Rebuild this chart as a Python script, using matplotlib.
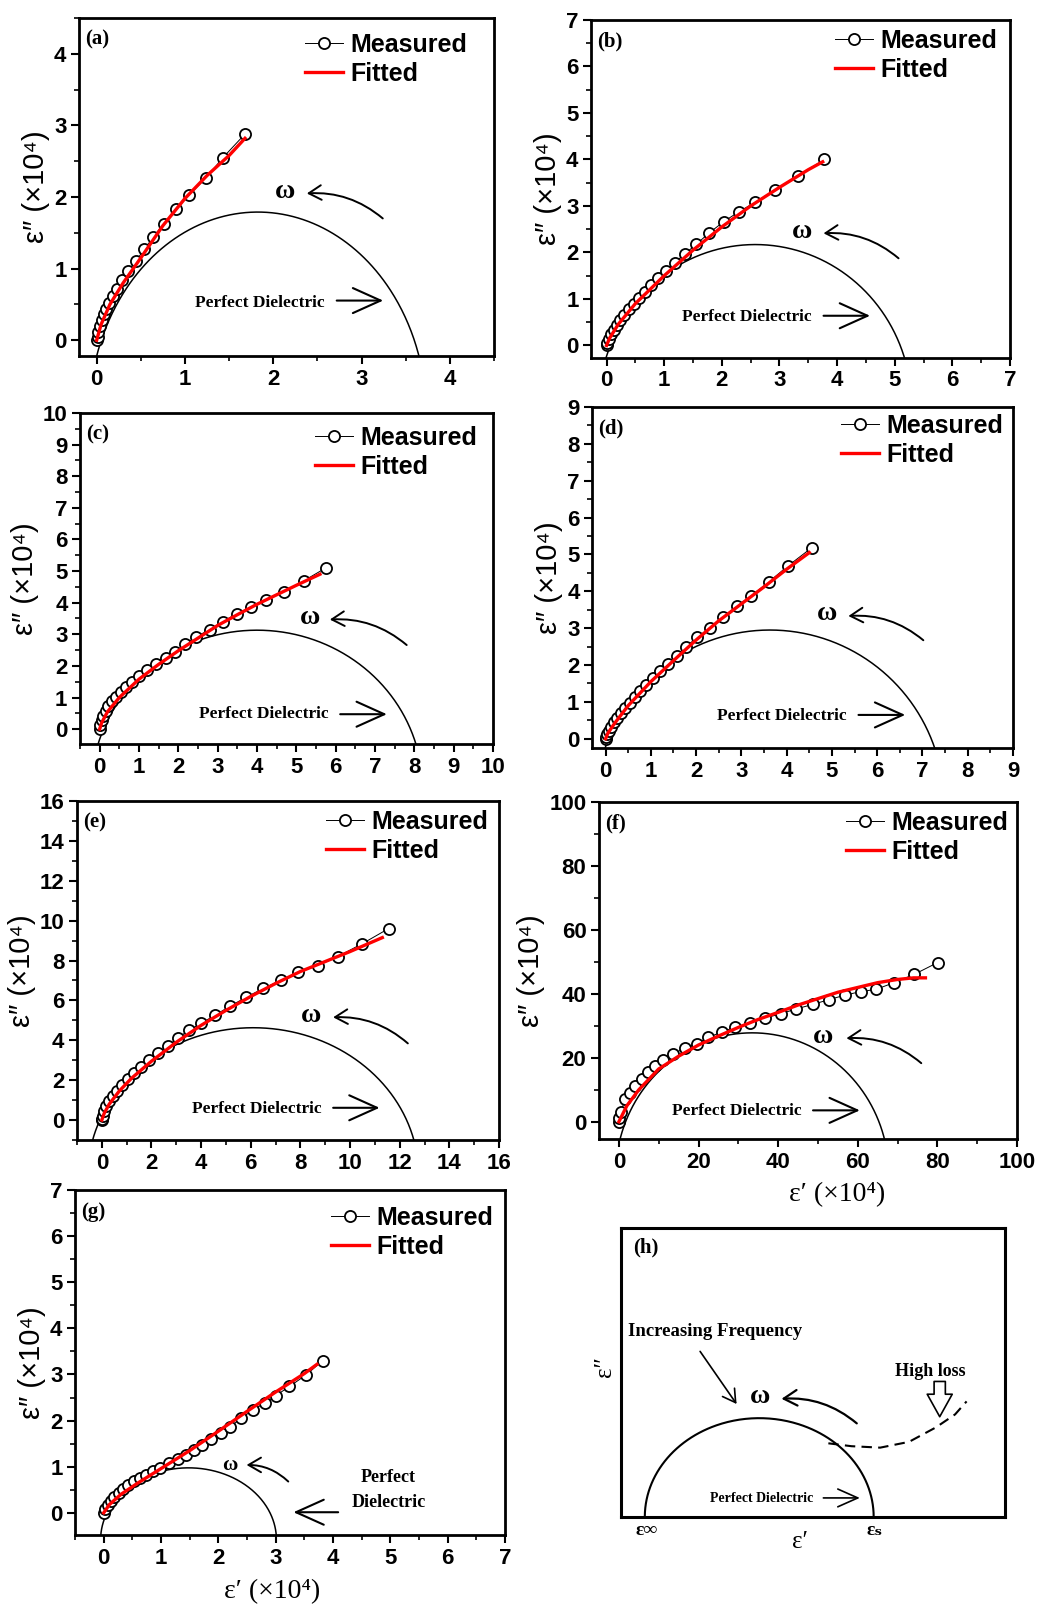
import numpy as np
import matplotlib
matplotlib.use("Agg")
import matplotlib.pyplot as plt
from matplotlib.ticker import MultipleLocator

plt.rcParams['font.family'] = ['Liberation Sans', 'DejaVu Sans']
SERIF = ['Liberation Serif', 'DejaVu Serif']

W, H = 1040, 1610

# ---- measured data (eps' , eps'' in units of 1e4) ----
a_x = [0, 0.01, 0.02, 0.04, 0.06, 0.08, 0.11, 0.14, 0.18, 0.23, 0.29, 0.36, 0.44, 0.54, 0.64, 0.76, 0.90, 1.05, 1.24, 1.43, 1.68]
a_y = [0, 0.05, 0.12, 0.20, 0.28, 0.36, 0.44, 0.52, 0.62, 0.72, 0.84, 0.97, 1.10, 1.27, 1.44, 1.63, 1.83, 2.03, 2.27, 2.55, 2.88]
b_x = [0, 0.01, 0.04, 0.08, 0.13, 0.18, 0.24, 0.31, 0.39, 0.47, 0.56, 0.66, 0.77, 0.89, 1.03, 1.18, 1.36, 1.56, 1.78, 2.03, 2.30, 2.58, 2.93, 3.32, 3.78]
b_y = [0, 0.05, 0.14, 0.24, 0.34, 0.44, 0.55, 0.66, 0.78, 0.90, 1.02, 1.15, 1.29, 1.44, 1.60, 1.78, 1.97, 2.18, 2.42, 2.66, 2.88, 3.08, 3.35, 3.65, 4.00]
c_x = [0, 0.02, 0.05, 0.09, 0.15, 0.22, 0.31, 0.41, 0.53, 0.67, 0.82, 1.00, 1.20, 1.42, 1.68, 1.92, 2.18, 2.45, 2.80, 3.13, 3.48, 3.84, 4.22, 4.68, 5.20, 5.75]
c_y = [0, 0.14, 0.28, 0.43, 0.58, 0.73, 0.88, 1.02, 1.17, 1.33, 1.50, 1.68, 1.86, 2.05, 2.25, 2.45, 2.68, 2.92, 3.15, 3.40, 3.65, 3.85, 4.08, 4.35, 4.70, 5.10]
d_x = [0, 0.01, 0.04, 0.08, 0.13, 0.19, 0.26, 0.34, 0.43, 0.53, 0.64, 0.76, 0.89, 1.04, 1.20, 1.38, 1.57, 1.78, 2.02, 2.30, 2.60, 2.90, 3.22, 3.60, 4.02, 4.55]
d_y = [0, 0.04, 0.12, 0.22, 0.33, 0.45, 0.57, 0.70, 0.84, 0.98, 1.13, 1.29, 1.46, 1.64, 1.83, 2.03, 2.25, 2.50, 2.75, 3.00, 3.30, 3.60, 3.88, 4.25, 4.68, 5.18]
e_x = [0, 0.01, 0.04, 0.10, 0.18, 0.30, 0.45, 0.62, 0.82, 1.05, 1.30, 1.58, 1.90, 2.28, 2.65, 3.05, 3.50, 4.00, 4.55, 5.15, 5.80, 6.50, 7.20, 7.90, 8.70, 9.50, 10.50, 11.55]
e_y = [0, 0.06, 0.22, 0.45, 0.70, 0.95, 1.20, 1.48, 1.75, 2.05, 2.35, 2.65, 3.00, 3.35, 3.70, 4.10, 4.50, 4.85, 5.25, 5.70, 6.15, 6.60, 7.00, 7.40, 7.75, 8.20, 8.85, 9.60]
f_x = [0, 0.1, 0.5, 1.5, 2.7, 4.0, 5.7, 7.3, 9.0, 11.1, 13.6, 16.5, 19.5, 22.4, 25.8, 29.1, 32.9, 36.7, 40.7, 44.6, 48.7, 52.8, 56.8, 60.7, 64.6, 69.1, 74.2, 80.1]
f_y = [0, 1.2, 2.9, 7.0, 9.1, 11.2, 13.5, 15.4, 17.3, 19.3, 21.2, 23.0, 24.3, 26.4, 28.0, 29.6, 30.8, 32.4, 33.8, 35.3, 36.7, 38.2, 39.6, 40.7, 41.4, 43.5, 46.1, 49.8]
g_x = [0, 0.03, 0.07, 0.12, 0.18, 0.26, 0.34, 0.43, 0.53, 0.63, 0.74, 0.86, 0.98, 1.14, 1.30, 1.44, 1.58, 1.72, 1.87, 2.05, 2.21, 2.40, 2.60, 2.81, 3.00, 3.24, 3.53, 3.82]
g_y = [0, 0.08, 0.16, 0.25, 0.34, 0.43, 0.52, 0.60, 0.68, 0.75, 0.82, 0.90, 0.98, 1.08, 1.17, 1.26, 1.37, 1.48, 1.61, 1.73, 1.87, 2.05, 2.23, 2.38, 2.54, 2.74, 2.99, 3.30]

# ---- fitted curves ----
fa_x = [0, 0.05, 0.15, 0.3, 0.5, 0.75, 1.0, 1.25, 1.5, 1.68]
fa_y = [0, 0.22, 0.5, 0.8, 1.15, 1.6, 1.98, 2.3, 2.58, 2.82]
fb_x = [0, 0.05, 0.2, 0.5, 1.0, 1.5, 2.0, 2.5, 3.0, 3.5, 3.75]
fb_y = [0, 0.15, 0.45, 0.9, 1.5, 2.05, 2.55, 3.0, 3.4, 3.78, 3.95]
fc_x = [0, 0.05, 0.2, 0.5, 1.0, 1.5, 2.0, 2.5, 3.0, 3.5, 4.0, 4.5, 5.0, 5.6]
fc_y = [0, 0.2, 0.55, 1.0, 1.58, 2.05, 2.48, 2.88, 3.28, 3.62, 3.95, 4.25, 4.55, 4.9]
fd_x = [0, 0.05, 0.2, 0.5, 1.0, 1.5, 2.0, 2.5, 3.0, 3.5, 4.0, 4.5]
fd_y = [0, 0.15, 0.42, 0.9, 1.55, 2.12, 2.68, 3.2, 3.66, 4.12, 4.6, 5.05]
fe_x = [0, 0.1, 0.3, 0.7, 1.2, 2, 3, 4, 5, 6, 7, 8, 9, 10, 11.3]
fe_y = [0, 0.35, 0.8, 1.45, 2.1, 2.95, 3.9, 4.75, 5.5, 6.2, 6.85, 7.45, 7.95, 8.45, 9.15]
ff_x = [0, 2, 5, 10, 15, 20, 25, 30, 35, 40, 45, 50, 55, 60, 65, 70, 74, 77]
ff_y = [0, 5, 10, 16.5, 20.5, 24, 26.8, 29.5, 32, 34.2, 36.5, 38.5, 40.5, 42, 43.5, 44.5, 45, 45]
fg_x = [0, 0.1, 0.3, 0.6, 1.0, 1.5, 2.0, 2.5, 3.0, 3.5, 3.72]
fg_y = [0, 0.18, 0.4, 0.65, 0.96, 1.35, 1.77, 2.2, 2.62, 3.02, 3.22]

# perfect dielectric arc: centre x, right foot x (at the bottom spine), peak height
arcs = {'a': (1.825, 3.65, 1.79), 'b': (2.58, 5.17, 2.17), 'c': (4.0, 8.04, 3.13),
        'd': (3.63, 7.27, 2.95), 'e': (6.1, 12.57, 4.63), 'f': (33.5, 66.7, 27.8),
        'g': (1.48, 3.01, 0.976)}

panels = [
    # tag, box px (l, t, r, b), mx, my, fx, fy, xlim, ylim, major, minor
    ('a', (79, 18, 494, 356), a_x, a_y, fa_x, fa_y, (-0.2, 4.5), (-0.22, 4.5), 1, 0.5),
    ('b', (591, 20, 1010, 358), b_x, b_y, fb_x, fb_y, (-0.27, 7), (-0.27, 7), 1, 0.5),
    ('c', (80, 413, 493, 744), c_x, c_y, fc_x, fc_y, (-0.5, 10), (-0.47, 10), 1, 0.5),
    ('d', (592, 407, 1013, 748), d_x, d_y, fd_x, fd_y, (-0.3, 9), (-0.25, 9), 1, 0.5),
    ('e', (77, 801, 499, 1140), e_x, e_y, fe_x, fe_y, (-1, 16), (-1, 16), 2, 1),
    ('f', (599, 802, 1017, 1139), f_x, f_y, ff_x, ff_y, (-5, 100), (-5.4, 100), 20, 10),
    ('g', (75, 1190, 505, 1535), g_x, g_y, fg_x, fg_y, (-0.5, 7), (-0.48, 7), 1, 0.5),
]

# annotation layout (axes fraction): omega (x, baseline), omega arrow start/end,
# "Perfect Dielectric" text (x, baseline), its arrow x0, x1, y; legend gaps px (right, top)
notes = {
    'a': ((0.496, 0.467), (0.732, 0.407), (0.549, 0.481), (0.436, 0.146), (0.621, 0.733, 0.164), (27, 19)),
    'b': ((0.503, 0.354), (0.734, 0.295), (0.555, 0.369), (0.372, 0.110), (0.555, 0.666, 0.125), (13, 13)),
    'c': ((0.557, 0.364), (0.791, 0.299), (0.605, 0.376), (0.444, 0.078), (0.630, 0.743, 0.090), (16, 17)),
    'd': ((0.558, 0.375), (0.787, 0.316), (0.609, 0.387), (0.451, 0.082), (0.633, 0.744, 0.097), (10, 11)),
    'e': ((0.555, 0.349), (0.784, 0.285), (0.607, 0.362), (0.425, 0.080), (0.607, 0.717, 0.095), (11, 13)),
    'f': ((0.536, 0.284), (0.771, 0.225), (0.592, 0.299), (0.329, 0.071), (0.512, 0.624, 0.085), (9, 13)),
    'g': ((0.360, 0.188), (0.496, 0.155), (0.399, 0.203), None, (0.612, 0.508, 0.066), (12, 20)),
}


def add_px_axes(fig, box):
    l, t, r, b = box
    return fig.add_axes([l / W, 1 - b / H, (r - l) / W, (b - t) / H])


def major_ticks(lim, step):
    start = np.ceil(lim[0] / step) * step
    return np.arange(start, lim[1] + step * 0.01, step)


fig = plt.figure(figsize=(W / 100, H / 100), dpi=100)

for tag, box, mx, my, fx, fy, xl, yl, maj, mnr in panels:
    ax = add_px_axes(fig, box)
    # arc drawn as part of an ellipse whose centre sits below the axis
    cx, xfoot, hh = arcs[tag]
    cy, bb = -0.6 * hh, 1.6 * hh
    aa = (xfoot - cx) / np.sqrt(1 - ((yl[0] - cy) / bb) ** 2)
    th = np.linspace(0, 2 * np.pi, 800)
    ax.plot(cx + aa * np.cos(th), cy + bb * np.sin(th), color='k', lw=1.1, zorder=1)
    ax.plot(mx, my, '-o', color='k', lw=0.7, ms=8, mfc='white', mec='k', mew=1.3,
            label='Measured', zorder=2)
    ax.plot(fx, fy, color='red', lw=2.4, label='Fitted', zorder=3)
    ax.set_xlim(*xl)
    ax.set_ylim(*yl)
    xt = major_ticks(xl, maj)
    yt = major_ticks(yl, maj)
    ax.set_xticks(xt)
    ax.set_xticklabels(['%d' % round(v) for v in xt], fontweight='bold', fontsize=16)
    ax.set_yticks(yt)
    ax.set_yticklabels(['%d' % round(v) for v in yt], fontweight='bold', fontsize=16)
    ax.xaxis.set_minor_locator(MultipleLocator(mnr))
    ax.yaxis.set_minor_locator(MultipleLocator(mnr))
    ax.tick_params(which='major', direction='out', length=6, width=1.5, pad=3)
    ax.tick_params(which='minor', direction='out', length=3.5, width=1.2)
    for s in ax.spines.values():
        s.set_linewidth(2)
    ax.set_ylabel('ε″ (×10⁴)', fontsize=21, labelpad=3)

    om, s0, s1, pd, pa, lg = notes[tag]
    w_px, h_px = box[2] - box[0], box[3] - box[1]
    ax.text(0.015, 0.965, '(%s)' % tag, transform=ax.transAxes, ha='left', va='top',
            fontsize=15, fontweight='bold', family=SERIF)
    ax.legend(loc='upper right', bbox_to_anchor=(1 - lg[0] / w_px, 1 - (lg[1] - 4) / h_px),
              frameon=False, borderpad=0, borderaxespad=0, handlelength=1.5,
              handletextpad=0.3, labelspacing=0.2,
              prop={'family': ['Liberation Sans', 'DejaVu Sans'], 'weight': 'bold', 'size': 18})

    osize = 15 if tag == 'g' else 20
    ax.text(om[0], om[1], 'ω', transform=ax.transAxes, ha='center', va='baseline',
            fontsize=osize, fontweight='bold', family=SERIF)
    ax.annotate('', xy=s1, xytext=s0, xycoords='axes fraction', textcoords='axes fraction',
                arrowprops=dict(arrowstyle='->,head_length=0.6,head_width=0.35',
                                connectionstyle='arc3,rad=0.2', lw=1.4, color='k',
                                shrinkA=0, shrinkB=0, mutation_scale=15))
    if pd is not None:
        ax.text(pd[0], pd[1], 'Perfect Dielectric', transform=ax.transAxes, ha='center',
                va='baseline', fontsize=12.5, fontweight='bold', family=SERIF)
    else:
        ax.text(0.729, 0.155, 'Perfect', transform=ax.transAxes, ha='center', va='baseline',
                fontsize=13, fontweight='bold', family=SERIF)
        ax.text(0.729, 0.082, 'Dielectric', transform=ax.transAxes, ha='center', va='baseline',
                fontsize=13, fontweight='bold', family=SERIF)
    ax.annotate('', xy=(pa[1], pa[2]), xytext=(pa[0], pa[2]), xycoords='axes fraction',
                textcoords='axes fraction',
                arrowprops=dict(arrowstyle='->,head_length=1.0,head_width=0.45', lw=1.5,
                                color='k', shrinkA=0, shrinkB=0, mutation_scale=20))
    if tag in ('f', 'g'):
        ax.set_xlabel('ε′ (×10⁴)', fontsize=20, family=SERIF)
        ax.xaxis.set_label_coords(0.569 if tag == 'f' else 0.458, -0.128)

# ---- panel (h): schematic ----
axh = add_px_axes(fig, (621, 1228, 1005, 1517))
axh.set_xlim(0, 1)
axh.set_ylim(0, 1)
axh.set_xticks([])
axh.set_yticks([])
for s in axh.spines.values():
    s.set_linewidth(2.2)
th = np.linspace(0, np.pi, 300)
axh.plot(0.36 + 0.298 * np.cos(th), 0.342 * np.sin(th), color='k', lw=1.5)
loss_x = [0.54, 0.60, 0.675, 0.75, 0.82, 0.87, 0.90]
loss_y = [0.255, 0.245, 0.24, 0.26, 0.31, 0.355, 0.40]
axh.plot(loss_x, loss_y, color='k', lw=1.5, ls=(0, (5, 3)))
axh.text(0.031, 0.967, '(h)', ha='left', va='top', fontsize=15, fontweight='bold', family=SERIF)
axh.text(0.018, 0.642, 'Increasing Frequency', ha='left', va='center', fontsize=13.5,
         fontweight='bold', family=SERIF)
axh.annotate('', xy=(0.301, 0.391), xytext=(0.206, 0.573),
             arrowprops=dict(arrowstyle='->,head_length=0.6,head_width=0.35', lw=1.2,
                             color='k', shrinkA=0, shrinkB=0, mutation_scale=15))
axh.text(0.362, 0.394, 'ω', ha='center', va='baseline', fontsize=20, fontweight='bold', family=SERIF)
axh.annotate('', xy=(0.418, 0.409), xytext=(0.614, 0.324),
             arrowprops=dict(arrowstyle='->,head_length=0.6,head_width=0.35',
                             connectionstyle='arc3,rad=0.2', lw=1.6, color='k',
                             shrinkA=0, shrinkB=0, mutation_scale=16))
axh.text(0.805, 0.503, 'High loss', ha='center', va='center', fontsize=13,
         fontweight='bold', family=SERIF)
axh.annotate('', xy=(0.83, 0.347), xytext=(0.83, 0.469),
             arrowprops=dict(arrowstyle='simple,head_length=0.9,head_width=1.0,tail_width=0.45',
                             fc='white', ec='k', lw=1.2, shrinkA=0, shrinkB=0, mutation_scale=18))
axh.text(0.366, 0.052, 'Perfect Dielectric', ha='center', va='baseline', fontsize=10,
         fontweight='bold', family=SERIF)
axh.annotate('', xy=(0.622, 0.066), xytext=(0.527, 0.066),
             arrowprops=dict(arrowstyle='->,head_length=0.9,head_width=0.4', lw=1.2,
                             color='k', shrinkA=0, shrinkB=0, mutation_scale=16))
axh.text(0.068, -0.046, 'ε∞', ha='center', va='center', fontsize=14, fontweight='bold',
         family=SERIF, clip_on=False)
axh.text(0.66, -0.046, 'εₛ', ha='center', va='center', fontsize=14, fontweight='bold',
         family=SERIF, clip_on=False)
axh.text(0.466, -0.085, 'ε′', ha='center', va='center', fontsize=18,
         family=SERIF, clip_on=False)
axh.text(-0.042, 0.52, 'ε″', ha='center', va='center', fontsize=18,
         rotation=90, family=SERIF, clip_on=False)

fig.savefig('out.png', dpi=100, facecolor='white')
